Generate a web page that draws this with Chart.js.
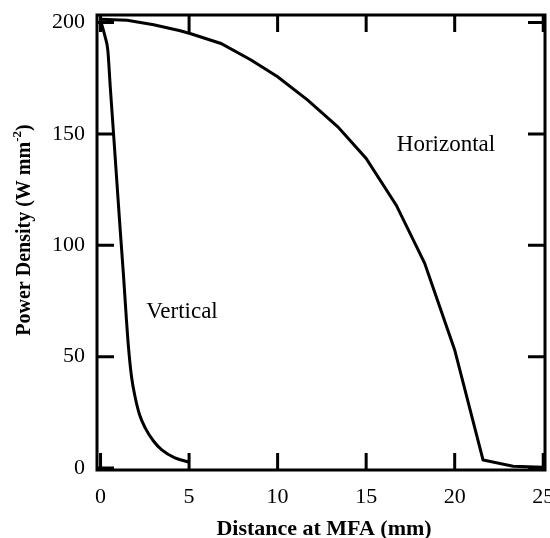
<!DOCTYPE html>
<html>
<head>
<meta charset="utf-8">
<script src="https://cdn.jsdelivr.net/npm/chart.js@4/dist/chart.umd.min.js"></script>
<style>
  html, body { margin: 0; background: #fff; overflow: hidden; }
  #wrap { width: 550px; height: 538px; position: relative; }
  canvas { display: block; }
</style>
</head>
<body>
<div id="wrap"><canvas id="chart"></canvas></div>
<script>
// Values
const horizontalX = [0, 1.5, 3, 4.5, 5.1, 6.8, 8.5, 10, 11.7, 13.4, 15, 16.7, 18.3, 20, 21.6, 23.3, 25];
const horizontalY = [201.5, 201, 199, 196.3, 195, 190.6, 183.2, 175.7, 165.2, 153.2, 139, 118, 92, 53, 3.6, 0.8, 0.3];

const verticalX = [0, 0.26, 0.41, 0.55, 0.7, 0.9, 1.1, 1.3, 1.45, 1.57, 1.75, 1.95, 2.2, 2.52, 3.0, 3.46, 4.2, 4.97];
const verticalY = [201, 193.6, 187.6, 171, 154, 131, 108, 86, 68, 55, 41, 32, 24, 18, 12, 8.1, 4.5, 2.7];

const xTicks = [0, 5, 10, 15, 20, 25];
const yTicks = [0, 50, 100, 150, 200];

const xTitle = 'Distance at MFA (mm)';
const yTitle = ['Power Density (W mm', '-2', ')'];
const curveLabels = [
  { text: 'Horizontal', x: 446, y: 145 },
  { text: 'Vertical', x: 182, y: 312 }
];

const serif = '"Liberation Serif", "Times New Roman", serif';
const tickLen = 17;

// frame, mirrored inward ticks, titles and curve names
const framePlugin = {
  id: 'frame',
  afterDraw(chart) {
    const ctx = chart.ctx;
    const a = chart.chartArea;
    const xs = chart.scales.x, ys = chart.scales.y;
    ctx.save();
    ctx.strokeStyle = '#000';
    ctx.lineWidth = 3;
    ctx.strokeRect(a.left, a.top, a.right - a.left, a.bottom - a.top);
    ctx.beginPath();
    xTicks.forEach(v => {
      const px = xs.getPixelForValue(v);
      ctx.moveTo(px, a.bottom); ctx.lineTo(px, a.bottom - tickLen);
      ctx.moveTo(px, a.top); ctx.lineTo(px, a.top + tickLen);
    });
    yTicks.forEach(v => {
      const py = ys.getPixelForValue(v);
      ctx.moveTo(a.left, py); ctx.lineTo(a.left + tickLen, py);
      ctx.moveTo(a.right, py); ctx.lineTo(a.right - tickLen, py);
    });
    ctx.stroke();

    ctx.fillStyle = '#000';
    // x title
    ctx.font = 'bold 22px ' + serif;
    ctx.textAlign = 'center';
    ctx.textBaseline = 'alphabetic';
    ctx.fillText(xTitle, (a.left + a.right) / 2 + 3, 535);

    // y title with superscript
    ctx.save();
    ctx.translate(30, 230);
    ctx.rotate(-Math.PI / 2);
    ctx.textAlign = 'left';
    const big = 'bold 20px ' + serif, small = 'bold 13px ' + serif;
    ctx.font = big;
    const w1 = ctx.measureText(yTitle[0]).width;
    const w3 = ctx.measureText(yTitle[2]).width;
    ctx.font = small;
    const w2 = ctx.measureText(yTitle[1]).width;
    let x0 = -(w1 + w2 + w3) / 2;
    ctx.font = big;
    ctx.fillText(yTitle[0], x0, 0);
    ctx.font = small;
    ctx.fillText(yTitle[1], x0 + w1, -9);
    ctx.font = big;
    ctx.fillText(yTitle[2], x0 + w1 + w2, 0);
    ctx.restore();

    // curve names
    ctx.font = '23px ' + serif;
    ctx.textAlign = 'center';
    ctx.textBaseline = 'middle';
    curveLabels.forEach(l => ctx.fillText(l.text, l.x, l.y));
    ctx.restore();
  }
};

new Chart(document.getElementById('chart'), {
  type: 'line',
  data: {
    datasets: [
      {
        label: 'Horizontal',
        data: horizontalX.map((x, i) => ({ x: x, y: horizontalY[i] })),
        borderColor: '#000',
        borderWidth: 3,
        pointRadius: 0,
        tension: 0
      },
      {
        label: 'Vertical',
        data: verticalX.map((x, i) => ({ x: x, y: verticalY[i] })),
        borderColor: '#000',
        borderWidth: 3,
        pointRadius: 0,
        cubicInterpolationMode: 'monotone'
      }
    ]
  },
  options: {
    responsive: true,
    maintainAspectRatio: false,
    animation: false,
    layout: { padding: { top: 15, right: 5, left: 0, bottom: 0 } },
    plugins: {
      legend: { display: false },
      tooltip: { enabled: false }
    },
    scales: {
      x: {
        type: 'linear',
        min: -0.2,
        max: 25.1,
        grid: { display: false, drawTicks: false },
        border: { display: false },
        afterBuildTicks: s => { s.ticks = xTicks.map(v => ({ value: v })); },
        afterFit: s => { s.height = 68; s.paddingLeft = 0; s.paddingRight = 0; },
        ticks: {
          color: '#000',
          padding: 14,
          maxRotation: 0,
          font: { family: serif, size: 22 }
        }
      },
      y: {
        type: 'linear',
        min: -0.9,
        max: 203.4,
        grid: { display: false, drawTicks: false },
        border: { display: false },
        afterBuildTicks: s => { s.ticks = yTicks.map(v => ({ value: v })); },
        afterFit: s => { s.width = 97; s.paddingTop = 0; s.paddingBottom = 0; },
        ticks: {
          color: '#000',
          padding: 12,
          font: { family: serif, size: 22 }
        }
      }
    }
  },
  plugins: [framePlugin]
});
</script>
</body>
</html>
